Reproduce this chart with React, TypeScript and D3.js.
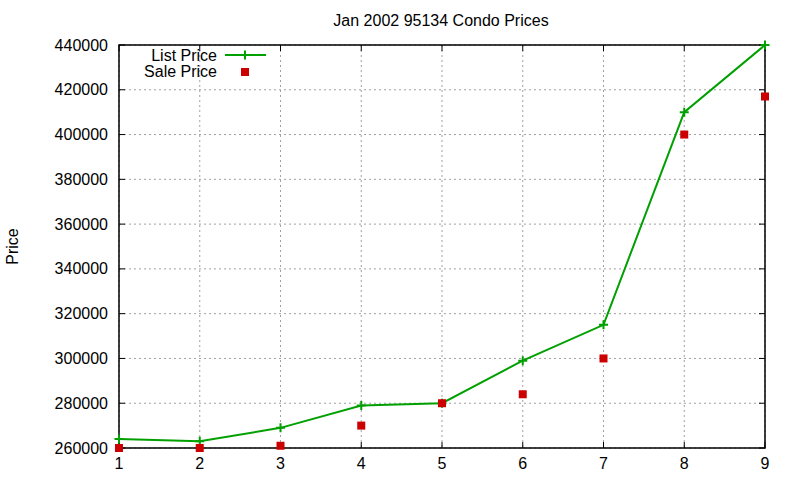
import * as d3 from "d3";
import React from "react";

const months = [1, 2, 3, 4, 5, 6, 7, 8, 9];
const listPrice = [264000, 263000, 269000, 279000, 280000, 299000, 315000, 410000, 440000];
const salePrice = [260000, 260000, 261000, 270000, 280000, 284000, 300000, 400000, 417000];
const yTicks = [260000, 280000, 300000, 320000, 340000, 360000, 380000, 400000, 420000, 440000];

const W = 800;
const H = 480;
const margin = { top: 45, right: 35, bottom: 32, left: 119 };
const FONT = "'Liberation Sans', Arial, sans-serif";
const FS = 16;

export default function App() {
  const innerW = W - margin.left - margin.right;
  const innerH = H - margin.top - margin.bottom;

  const x = d3.scaleLinear().domain([1, 9]).range([0, innerW]);
  const y = d3.scaleLinear().domain([260000, 440000]).range([innerH, 0]);

  const line = d3
    .line<number>()
    .x((_, i) => x(months[i]))
    .y((d) => y(d));

  const tick = 6;
  const plus = 4.5;
  const sq = 4;

  return (
    <svg
      width={W}
      height={H}
      style={{ position: "absolute", left: 0, top: 0, background: "white" }}
      fontFamily={FONT}
    >
      <text x={441} y={26} textAnchor="middle" fontSize={FS} fill="#000">
        Jan 2002 95134 Condo Prices
      </text>
      <text
        transform={`translate(18,${margin.top + innerH / 2}) rotate(-90)`}
        textAnchor="middle"
        fontSize={FS}
      >
        Price
      </text>
      <g transform={`translate(${margin.left},${margin.top})`}>
        {/* grid */}
        {months.map((m) => (
          <line
            key={"gx" + m}
            x1={x(m)}
            x2={x(m)}
            y1={0}
            y2={innerH}
            stroke="#a0a0a0"
            strokeDasharray="2,3"
          />
        ))}
        {yTicks.map((t) => (
          <line
            key={"gy" + t}
            x1={0}
            x2={innerW}
            y1={y(t)}
            y2={y(t)}
            stroke="#a0a0a0"
            strokeDasharray="2,3"
          />
        ))}
        {/* tick marks and labels */}
        {yTicks.map((t) => (
          <g key={"ty" + t}>
            <line x1={0} x2={tick} y1={y(t)} y2={y(t)} stroke="#000" />
            <line x1={innerW - tick} x2={innerW} y1={y(t)} y2={y(t)} stroke="#000" />
            <text x={-11} y={y(t)} dy="0.35em" textAnchor="end" fontSize={FS}>
              {t}
            </text>
          </g>
        ))}
        {months.map((m) => (
          <g key={"tx" + m}>
            <line x1={x(m)} x2={x(m)} y1={innerH} y2={innerH - tick} stroke="#000" />
            <line x1={x(m)} x2={x(m)} y1={0} y2={tick} stroke="#000" />
            <text x={x(m)} y={innerH + 21} textAnchor="middle" fontSize={FS}>
              {m}
            </text>
          </g>
        ))}
        <rect x={0} y={0} width={innerW} height={innerH} fill="none" stroke="#000" strokeWidth={1.5} />
        {/* list price */}
        <path d={line(listPrice) ?? ""} fill="none" stroke="#00a000" strokeWidth={2} />
        {listPrice.map((v, i) => (
          <path
            key={"lp" + i}
            d={`M${x(months[i]) - plus},${y(v)}h${plus * 2}M${x(months[i])},${y(v) - plus}v${plus * 2}`}
            stroke="#00a000"
            strokeWidth={2}
          />
        ))}
        {/* sale price */}
        {salePrice.map((v, i) => (
          <rect
            key={"sp" + i}
            x={x(months[i]) - sq}
            y={y(v) - sq}
            width={sq * 2}
            height={sq * 2}
            fill="#cc0000"
          />
        ))}
      </g>
      {/* legend */}
      <g>
        <text x={217} y={61} textAnchor="end" fontSize={FS}>
          List Price
        </text>
        <line x1={225} x2={266} y1={55} y2={55} stroke="#00a000" strokeWidth={2} />
        <path d={`M${245 - plus},55h${plus * 2}M245,${55 - plus}v${plus * 2}`} stroke="#00a000" strokeWidth={2} />
        <text x={217} y={77} textAnchor="end" fontSize={FS}>
          Sale Price
        </text>
        <rect x={245 - sq} y={72 - sq} width={sq * 2} height={sq * 2} fill="#cc0000" />
      </g>
    </svg>
  );
}
